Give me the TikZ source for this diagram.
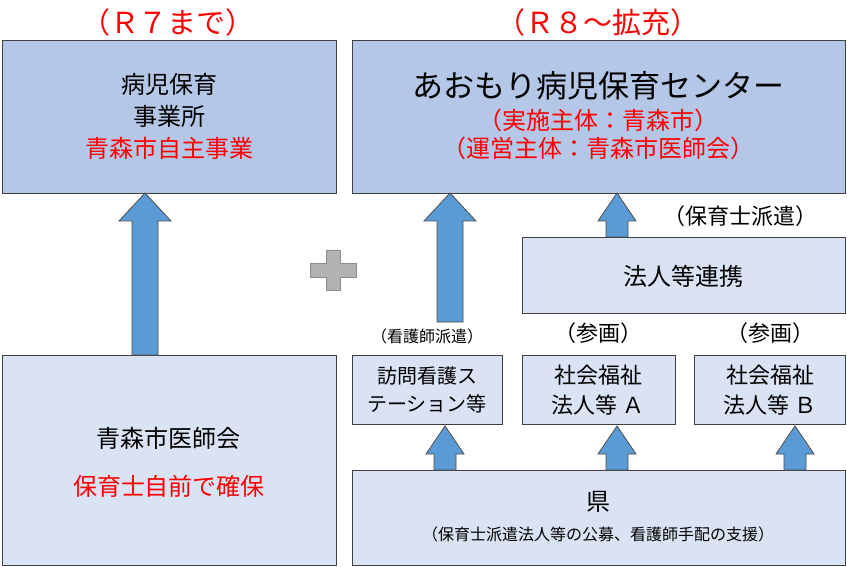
\documentclass[tikz,border=0pt]{standalone}
\usepackage{fontspec}
\setmainfont{Noto Sans CJK JP}
\definecolor{bA}{HTML}{B4C7E7}
\definecolor{bB}{HTML}{DAE3F3}
\definecolor{arr}{HTML}{5B9BD5}
\definecolor{rd}{HTML}{FF0000}
\begin{document}
\begin{tikzpicture}[x=1pt,y=-1pt,
 box/.style={draw=black!75,line width=0.8pt},
 ar/.style={fill=arr,draw=black!70,line width=0.8pt}]
\useasboundingbox (0,0) rectangle (847,567);
\newcommand{\uparr}[5]{% xc, ybottom, ytop, halfshaft, halfhead
 \filldraw[ar] (#1-#4,#2) -- (#1-#4,#3+28) -- (#1-#5,#3+28) -- (#1,#3) -- (#1+#5,#3+28) -- (#1+#4,#3+28) -- (#1+#4,#2) -- cycle;}
\fill[bA] (2,40) rectangle (336,193); \draw[box] (2,40) rectangle (336,193);
\fill[bA] (352,40) rectangle (845,193); \draw[box] (352,40) rectangle (845,193);
\fill[bB] (2,355) rectangle (336,565); \draw[box] (2,355) rectangle (336,565);
\fill[bB] (522,237) rectangle (845,313); \draw[box] (522,237) rectangle (845,313);
\fill[bB] (352,355) rectangle (502,424); \draw[box] (352,355) rectangle (502,424);
\fill[bB] (522,355) rectangle (675,424); \draw[box] (522,355) rectangle (675,424);
\fill[bB] (694,355) rectangle (845,424); \draw[box] (694,355) rectangle (845,424);
\fill[bB] (352,470) rectangle (845,565); \draw[box] (352,470) rectangle (845,565);
\node[text=rd,font=\fontsize{29}{34}\selectfont] (t1) at (168,22) {（Ｒ７まで）};
\node[text=rd,font=\fontsize{29}{34}\selectfont] (t2) at (598,22) {（Ｒ８～拡充）};
\node[align=center,font=\fontsize{24}{32}\selectfont] (n1) at (169,116) {病児保育\\事業所\\\textcolor{rd}{青森市自主事業}};
\node[align=center,font=\fontsize{24}{30}\selectfont] (n2) at (598,116) {{\fontsize{31}{34}\selectfont あおもり病児保育センター}\\[2pt]\textcolor{rd}{（実施主体：青森市）}\\[-2pt]\textcolor{rd}{（運営主体：青森市医師会）}};
\node[align=center,font=\fontsize{24}{30}\selectfont] (n3) at (169,462) {青森市医師会\\[18pt]\textcolor{rd}{保育士自前で確保}};
\node[font=\fontsize{24}{28}\selectfont] (n4) at (683,276) {法人等連携};
\node[font=\fontsize{22}{26}\selectfont] (n5) at (740,216) {（保育士派遣）};
\node[align=center,font=\fontsize{20}{28}\selectfont] (n6) at (427,390) {訪問看護ス\\テーション等};
\node[align=center,font=\fontsize{22}{30}\selectfont] (n7) at (598,390) {社会福祉\\法人等\ Ａ};
\node[align=center,font=\fontsize{22}{30}\selectfont] (n8) at (770,390) {社会福祉\\法人等\ Ｂ};
\node[font=\fontsize{16}{20}\selectfont] (n9) at (427,336) {（看護師派遣）};
\node[font=\fontsize{22}{26}\selectfont] (n10) at (598,333) {（参画）};
\node[font=\fontsize{22}{26}\selectfont] (n11) at (770,333) {（参画）};
\node[font=\fontsize{24}{28}\selectfont] (n12) at (598,502) {県};
\node[font=\fontsize{16}{20}\selectfont] (n13) at (598,534) {（保育士派遣法人等の公募、看護師手配の支援）};
\uparr{145}{355}{193}{13}{26}
\uparr{450}{322}{193}{13}{26}
\uparr{617}{237}{193}{11}{19}
\uparr{445}{470}{426}{11}{19}
\uparr{617}{470}{426}{11}{19}
\uparr{795}{470}{426}{11}{19}
\filldraw[fill=gray!60,draw=gray!90,line width=0.6pt] (326,250) -- (340,250) -- (340,263) -- (356,263) -- (356,277) -- (340,277) -- (340,290) -- (326,290) -- (326,277) -- (310,277) -- (310,263) -- (326,263) -- cycle;
\end{tikzpicture}
\end{document}
